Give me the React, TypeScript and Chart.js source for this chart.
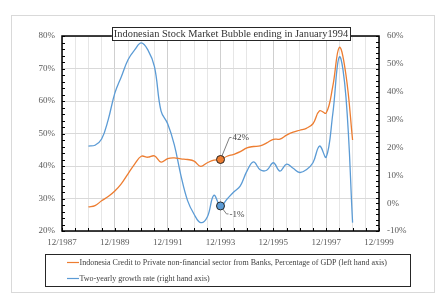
import { useEffect, useRef } from 'react';
import { Chart, registerables } from 'chart.js';

Chart.register(...registerables);

const SERIF = '"Liberation Serif", "Times New Roman", serif';

// months since December 1987 (quarterly observations)
const months = [12, 15, 18, 21, 24, 27, 30, 33, 36, 39, 42, 45, 48, 51, 54, 57, 60, 63, 66, 69, 72, 75, 78, 81, 84, 87, 90, 93, 96, 99, 102, 105, 108, 111, 114, 117, 120, 123, 126, 129, 132];

// Credit to private non-financial sector from banks, % of GDP (left axis)
const creditGDP = [27.4, 27.8, 29.3, 30.6, 32.3, 34.6, 37.6, 40.6, 43, 42.7, 43.1, 41.2, 42.3, 42.5, 42.2, 42, 41.5, 39.9, 41, 41.8, 42, 43, 43.6, 44.4, 45.6, 46, 46.2, 47.1, 48.2, 48.3, 49.5, 50.4, 51, 51.6, 53, 57, 56.3, 64.5, 76.5, 68, 48];

// Two-yearly growth rate, % (right axis)
const growthRate = [20.5, 20.8, 23, 30, 39.5, 45.5, 51.5, 55, 57.5, 55, 49, 33, 28.5, 21, 10, 1, -4, -7, -5, 2.8, -1, 1.5, 4, 6.2, 11.5, 14.8, 12, 11.8, 14.5, 11.5, 14, 12.5, 11, 12, 14.5, 20.5, 16.5, 32, 52.5, 38, -7];

const xTickLabels = ['12/1987', '12/1989', '12/1991', '12/1993', '12/1995', '12/1997', '12/1999'];

const titleText = 'Indonesian Stock Market Bubble ending in January1994';
const legendLabels = [
  'Indonesia Credit to Private non-financial sector from Banks, Percentage of GDP (left hand axis)',
  'Two-yearly growth rate (right hand axis)',
];
const annotatedIndex = 20; // 12/1993
const annotationLabels = ['42%', '-1%'];

const ORANGE = '#ED7D31';
const BLUE = '#5B9BD5';
const TEXT = '#404040';

export default function App() {
  const ref = useRef<HTMLCanvasElement>(null);

  useEffect(() => {
    const decorations = {
      id: 'decorations',
      beforeDraw(chart: any) {
        const { ctx } = chart;
        ctx.save();
        ctx.fillStyle = '#fff';
        ctx.fillRect(0, 0, chart.width, chart.height);
        ctx.strokeStyle = '#d9d9d9';
        ctx.lineWidth = 1;
        ctx.strokeRect(11.5, 15.5, 423, 277);
        ctx.restore();
      },
      beforeDatasetsDraw(chart: any) {
        const { ctx, scales } = chart;
        const ox = scales.x.getPixelForValue(months[annotatedIndex]);
        const oy = scales.y.getPixelForValue(creditGDP[annotatedIndex]);
        const by = scales.y1.getPixelForValue(growthRate[annotatedIndex]);
        ctx.save();
        ctx.strokeStyle = '#7f7f7f';
        ctx.lineWidth = 1;
        ctx.beginPath();
        ctx.moveTo(ox, oy);
        ctx.lineTo(ox + 9, oy - 22);
        ctx.lineTo(ox + 11, oy - 22);
        ctx.moveTo(ox, by);
        ctx.lineTo(ox + 6, by + 8);
        ctx.lineTo(ox + 8, by + 8);
        ctx.stroke();
        ctx.restore();
      },
      afterDraw(chart: any) {
        const { ctx, chartArea: a, scales } = chart;
        ctx.save();
        // minor tick marks
        ctx.strokeStyle = '#000';
        ctx.lineWidth = 1;
        ctx.beginPath();
        for (let v = 20; v <= 80; v += 2) {
          const y = Math.round(scales.y.getPixelForValue(v)) + 0.5;
          ctx.moveTo(a.left, y);
          ctx.lineTo(a.left + 3, y);
        }
        for (let v = -10; v <= 60; v += 2) {
          const y = Math.round(scales.y1.getPixelForValue(v)) + 0.5;
          ctx.moveTo(a.right - 3, y);
          ctx.lineTo(a.right, y);
        }
        for (let m = 0; m <= 144; m += 6) {
          const x = Math.round(scales.x.getPixelForValue(m)) + 0.5;
          ctx.moveTo(x, a.bottom);
          ctx.lineTo(x, a.bottom - 3);
        }
        ctx.stroke();
        // plot frame
        ctx.lineWidth = 1.5;
        ctx.strokeRect(a.left, a.top, a.right - a.left, a.bottom - a.top);

        // annotation labels
        const ox = scales.x.getPixelForValue(months[annotatedIndex]);
        const oy = scales.y.getPixelForValue(creditGDP[annotatedIndex]);
        const by = scales.y1.getPixelForValue(growthRate[annotatedIndex]);
        ctx.fillStyle = TEXT;
        ctx.font = `9px ${SERIF}`;
        ctx.textBaseline = 'middle';
        ctx.textAlign = 'left';
        ctx.fillText(annotationLabels[0], ox + 12, oy - 22);
        ctx.fillText(annotationLabels[1], ox + 9, by + 9);

        // title box
        ctx.font = `10.4px ${SERIF}`;
        const tw = ctx.measureText(titleText).width;
        const cx = 231;
        const bw = tw + 4;
        ctx.fillStyle = '#fff';
        ctx.fillRect(cx - bw / 2, 27, bw, 14);
        ctx.strokeStyle = '#262626';
        ctx.lineWidth = 1;
        ctx.strokeRect(Math.round(cx - bw / 2) + 0.5, 27.5, Math.round(bw), 13);
        ctx.fillStyle = '#333333';
        ctx.textAlign = 'center';
        ctx.fillText(titleText, cx, 34.5);

        // legend
        ctx.strokeStyle = '#262626';
        ctx.strokeRect(45.5, 254.5, 365, 32);
        ctx.font = `8px ${SERIF}`;
        ctx.textAlign = 'left';
        const colors = [ORANGE, BLUE];
        const ys = [262.5, 278.5];
        legendLabels.forEach((t, i) => {
          ctx.strokeStyle = colors[i];
          ctx.lineWidth = 1.2;
          ctx.beginPath();
          ctx.moveTo(67, ys[i]);
          ctx.lineTo(79, ys[i]);
          ctx.stroke();
          ctx.fillStyle = TEXT;
          ctx.fillText(t, 79.5, ys[i]);
        });
        ctx.restore();
      },
    };

    const pointStyleFor = (color: string) => ({
      pointRadius: (c: any) => (c.dataIndex === annotatedIndex ? 4 : 0),
      pointHoverRadius: 0,
      pointBackgroundColor: color,
      pointBorderColor: '#262626',
      pointBorderWidth: 1,
    });

    const chart = new Chart(ref.current!, {
      type: 'line',
      data: {
        datasets: [
          {
            label: legendLabels[0],
            data: months.map((m, i) => ({ x: m, y: creditGDP[i] })),
            borderColor: ORANGE,
            backgroundColor: ORANGE,
            borderWidth: 1.3,
            tension: 0.4,
            yAxisID: 'y',
            ...pointStyleFor(ORANGE),
          },
          {
            label: legendLabels[1],
            data: months.map((m, i) => ({ x: m, y: growthRate[i] })),
            borderColor: BLUE,
            backgroundColor: BLUE,
            borderWidth: 1.3,
            tension: 0.4,
            yAxisID: 'y1',
            ...pointStyleFor(BLUE),
          },
        ],
      },
      options: {
        responsive: false,
        animation: false,
        layout: { padding: { top: 36, left: 0, right: 0, bottom: 0 } },
        plugins: {
          legend: { display: false },
          title: { display: false },
          tooltip: { enabled: false },
        },
        scales: {
          x: {
            type: 'linear',
            min: 0,
            max: 144,
            afterFit: (s: any) => { s.height = 70; },
            border: { display: false },
            grid: {
              drawTicks: false,
              color: (c: any) => (c.tick && c.tick.value % 24 === 0 ? '#cfcfcf' : '#e6e6e6'),
              lineWidth: 1,
            },
            ticks: {
              stepSize: 6,
              autoSkip: false,
              maxRotation: 0,
              padding: 6,
              color: '#595959',
              font: { family: SERIF, size: 9 },
              callback: (v: any) => (v % 24 === 0 ? xTickLabels[v / 24] : ''),
            },
          },
          y: {
            type: 'linear',
            position: 'left',
            min: 20,
            max: 80,
            afterFit: (s: any) => { s.width = 62; },
            border: { display: false },
            grid: { drawTicks: false, color: '#d9d9d9' },
            ticks: {
              stepSize: 10,
              padding: 7,
              color: '#595959',
              font: { family: SERIF, size: 9 },
              callback: (v: any) => `${v}%`,
            },
          },
          y1: {
            type: 'linear',
            position: 'right',
            min: -10,
            max: 60,
            afterFit: (s: any) => { s.width = 66; },
            border: { display: false },
            grid: { drawOnChartArea: false, drawTicks: false },
            ticks: {
              stepSize: 10,
              padding: 8,
              color: '#595959',
              font: { family: SERIF, size: 9 },
              callback: (v: any) => `${v}%`,
            },
          },
        },
      },
      plugins: [decorations],
    });
    return () => chart.destroy();
  }, []);

  return (
    <div style={{ position: 'absolute', left: 0, top: 0, width: 445, height: 301, background: '#fff' }}>
      <canvas ref={ref} width={445} height={301} style={{ display: 'block', width: 445, height: 301 }} />
    </div>
  );
}
